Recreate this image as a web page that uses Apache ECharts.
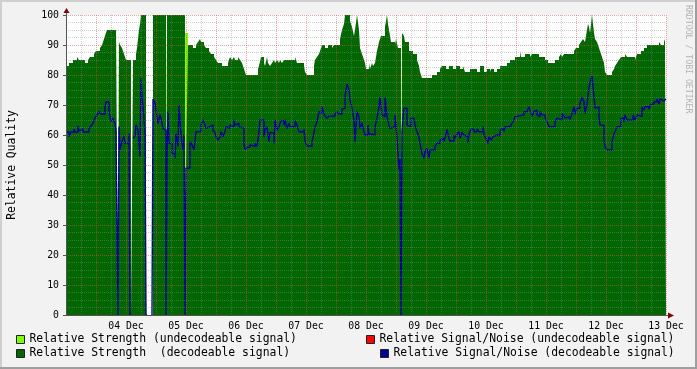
<!DOCTYPE html>
<html>
<head>
<meta charset="utf-8">
<script src="https://cdn.jsdelivr.net/npm/echarts@6/dist/echarts.min.js"></script>
<style>
html,body{margin:0;padding:0;background:#F2F2F2;}
#c{width:697px;height:369px;}
</style>
</head>
<body>
<div id="c"></div>
<script>
// x values are 24-minute slots counted from 03 Dec 00:00 (60 slots = 1 day)
const SLOT_MINUTES = 24;
const SLOTS_PER_DAY = 60;
const X_MAX = 600;
const dayLabels = ['04 Dec','05 Dec','06 Dec','07 Dec','08 Dec','09 Dec','10 Dec','11 Dec','12 Dec','13 Dec'];

const nameStrUndec = 'Relative Strength (undecodeable signal)';
const nameSnrUndec = 'Relative Signal/Noise (undecodeable signal)';
const nameStrDec = 'Relative Strength  (decodeable signal)';
const nameSnrDec = 'Relative Signal/Noise (decodeable signal)';

// Relative Strength (decodeable) – [slot, value], value holds until next slot
const strengthDecodeable = [[0,83],[3,84],[7,85],[11,86],[13,85],[19,84],[22,85],[24,86],[28,87],[30,88],[34,89],[36,90],[38,92],[39,93],[41,95],[50,96],[52,0],[53,91],[54,90],[56,89],[58,87],[60,85],[65,0],[67,85],[70,87],[71,89],[72,92],[73,95],[74,97],[75,100],[80,0],[87,100],[100,0],[101,100],[119,0],[120,49],[122,90],[127,89],[130,90],[132,91],[134,92],[135,91],[138,90],[140,89],[143,88],[145,87],[148,86],[150,85],[152,84],[156,83],[162,84],[164,86],[166,85],[168,86],[169,85],[172,86],[174,85],[176,84],[178,82],[180,80],[192,82],[193,83],[195,86],[198,84],[199,83],[201,86],[202,84],[204,83],[206,84],[208,85],[209,84],[211,85],[213,84],[214,85],[216,84],[218,85],[229,86],[231,84],[238,83],[239,81],[241,80],[248,83],[249,85],[251,86],[253,87],[254,88],[256,90],[259,89],[262,90],[266,89],[268,90],[274,92],[276,95],[278,97],[279,100],[284,98],[286,96],[288,93],[289,95],[291,100],[293,95],[294,89],[296,87],[297,86],[299,84],[300,82],[303,84],[304,82],[306,84],[307,83],[309,84],[311,88],[313,91],[315,93],[319,96],[320,98],[321,100],[322,97],[324,93],[325,91],[329,90],[330,92],[332,89],[335,0],[336,94],[338,93],[339,91],[343,88],[347,87],[351,85],[353,83],[354,81],[356,79],[366,80],[371,81],[374,82],[376,83],[380,82],[383,83],[387,82],[390,83],[394,82],[397,83],[399,81],[404,82],[411,81],[414,83],[418,81],[421,82],[424,81],[425,82],[428,81],[431,82],[434,83],[441,84],[444,85],[449,86],[454,88],[455,86],[459,87],[464,86],[466,87],[473,86],[479,85],[482,84],[489,85],[493,86],[495,87],[496,86],[498,87],[508,88],[510,89],[513,90],[515,91],[517,92],[519,91],[521,95],[522,97],[523,96],[524,94],[526,100],[528,94],[529,92],[531,91],[533,89],[534,88],[536,86],[538,84],[539,81],[541,80],[546,81],[548,82],[549,83],[551,84],[553,85],[555,86],[559,87],[561,86],[569,85],[571,87],[575,88],[578,89],[581,90],[593,91],[595,90],[598,91],[599,92],[600,92]];

// Relative Strength (undecodeable)
const strengthUndecodeable = [[0,0],[52,100],[53,0],[100,100],[101,0],[119,94],[122,0],[333,92],[334,0],[335,100],[336,0],[600,0]];

// Relative Signal/Noise (undecodeable) – no samples in this period
const snrUndecodeable = [];

// Relative Signal/Noise (decodeable); '-' = no data
const snrDecodeable = [[0,61],[3,59.4],[5,61],[8,62],[9,61],[12,63],[13,61.4],[15,62],[17,61],[23,62],[25,63],[27,64],[29,65.6],[31,66.7],[33,67.8],[35,67],[39,69.4],[40,71],[43,68.3],[44,66],[45,64.4],[47,65.6],[49,64],[50,61],[52,0],[53,62.8],[54,55],[56,57.8],[58,59.7],[59,57.2],[63,60.4],[64,0],[65,'-'],[67,58.9],[69,59.7],[70,63.3],[72,61.6],[74,52.8],[75,79],[76,72.8],[78,65.6],[79,61],[80,0],[81,'-'],[86,0],[87,72],[89,70.6],[90,68.3],[92,63.9],[94,66.7],[95,65.6],[97,62.2],[99,61.6],[100,0],[101,53.8],[102,67.8],[103,57.2],[106,53.8],[109,52.2],[110,60.4],[112,56.2],[113,70],[115,60],[117,55],[118,60],[119,0],[120,49],[124,57.8],[126,56.7],[128,55],[130,61.1],[135,63.3],[137,65],[139,63.3],[140,62.2],[142,62.8],[144,62.2],[145,63.3],[147,61.6],[149,60.8],[150,59.4],[152,58.3],[154,59.4],[155,61.1],[157,59.4],[159,61.1],[160,62.8],[162,62.2],[164,63.3],[166,62.8],[168,65],[169,63.3],[171,63.9],[173,62.8],[174,62.2],[178,56.7],[179,55.2],[181,55.9],[184,56.7],[186,56.2],[189,57.2],[191,56.2],[193,61.1],[194,65],[198,59.4],[199,61.6],[201,62.8],[203,57.8],[204,60.8],[208,57.2],[209,65],[211,61.6],[213,62.8],[215,64.8],[218,63.3],[219,65],[221,62.2],[223,63.9],[224,62.8],[229,64.8],[231,63.3],[233,61.1],[238,61.9],[239,57.8],[241,56.4],[243,56.2],[246,57.8],[248,60.8],[249,62.8],[251,64.4],[253,67.8],[254,67.2],[256,69.4],[258,67],[259,66.3],[261,65.6],[263,66.3],[269,67],[271,67.8],[273,67],[276,68.6],[278,68.9],[279,73],[281,77],[283,75],[284,71.9],[286,68.9],[288,65],[289,57.8],[291,67.8],[293,66.1],[294,62.2],[296,64],[298,61.1],[299,60],[302,63.3],[303,60.4],[305,60],[309,62.8],[311,65.6],[313,69.4],[314,72.6],[316,66.7],[318,66.1],[319,72.6],[321,66.1],[323,63.3],[324,62.2],[326,62.8],[329,66.7],[330,63.3],[332,53.8],[333,48.5],[334,52],[335,0],[336,61],[337,65.6],[338,68.9],[341,63.3],[343,62.8],[345,65.6],[348,65],[349,63.3],[351,61.1],[353,59.4],[354,57.2],[356,53.8],[358,52.2],[359,54.4],[361,55.6],[363,52.2],[364,55],[369,56.2],[371,57.2],[374,58.3],[376,58.9],[378,57.8],[379,58.9],[381,61.9],[383,58.9],[384,58],[388,60],[389,58.9],[391,60.4],[393,61.1],[394,58.9],[396,60.8],[398,60],[400,59.4],[402,57.4],[403,60.4],[405,61.9],[408,61.1],[411,61.9],[413,61.1],[417,62.8],[418,60],[420,58.9],[422,57.2],[423,59.4],[425,58.3],[427,59.4],[428,60],[431,59.7],[434,61.1],[435,61.9],[438,61.1],[439,62.8],[444,63.3],[446,63.9],[448,65],[449,66.1],[451,66.7],[458,67.8],[461,68.3],[463,69.4],[464,68.3],[466,66.3],[468,67.8],[469,68.3],[471,66.7],[473,66.1],[474,67.8],[476,66.7],[479,65.9],[481,64.4],[483,62.8],[489,64.4],[491,65.6],[493,65],[496,67.2],[498,66.3],[499,65.6],[501,66.1],[503,66.7],[504,65.2],[506,67.2],[508,69.4],[509,67],[511,68.9],[514,70.6],[516,72.6],[518,71.1],[519,67.2],[521,70.3],[523,75.9],[524,77.4],[526,79.7],[528,72.8],[529,68.9],[531,69.4],[533,66.1],[534,63.3],[538,58.3],[539,56.2],[541,55],[546,57.8],[548,60.4],[549,61.1],[551,62.8],[555,65.6],[558,64.4],[559,66.7],[561,65],[567,66.7],[569,65],[571,66.7],[573,66.1],[576,69.4],[578,68.3],[579,69.4],[583,68.6],[585,70.3],[588,71.1],[591,72],[593,70.3],[594,72],[596,71.4],[598,72],[600,71.4]];

const MONO = 'DejaVu Sans Mono';
const C_LIGHT = '#7fff00', C_DARK = '#006600', C_RED = '#ff0000', C_BLUE = '#000099';
const GRID_MINOR = 'rgba(143,143,143,0.42)';
const GRID_MAJOR = 'rgba(222,79,79,0.5)';

const chart = echarts.init(document.getElementById('c'), null, {renderer:'canvas'});

const legendCommon = {
  orient:'horizontal', padding:0, itemWidth:8, itemHeight:8, icon:'rect', selectedMode:false,
  itemStyle:{borderColor:'#212121', borderWidth:1},
  textStyle:{fontFamily:MONO, fontSize:11.4, color:'#000'}
};

const option = {
  animation:false,
  backgroundColor:'#F2F2F2',
  grid:{left:66, right:31, top:15, bottom:54, show:true, backgroundColor:'#ffffff', borderWidth:0,
        containLabel:false, outerBoundsMode:'none'},
  legend:[
    Object.assign({data:[nameStrUndec], left:16, top:334}, legendCommon),
    Object.assign({data:[nameSnrUndec], left:366, top:334}, legendCommon),
    Object.assign({data:[nameStrDec], left:16, top:348}, legendCommon),
    Object.assign({data:[nameSnrDec], left:380, top:348}, legendCommon)
  ],
  xAxis:{
    type:'value', min:0, max:X_MAX, interval:SLOTS_PER_DAY/2, z:10,
    axisLine:{show:true, lineStyle:{color:'#545454', width:1}},
    axisTick:{show:false},
    axisLabel:{
      fontFamily:MONO, fontSize:9.8, color:'#000', margin:6,
      showMinLabel:false, showMaxLabel:true,
      formatter:function(v){
        if (v > 0 && v % SLOTS_PER_DAY === 0) return dayLabels[v / SLOTS_PER_DAY - 1];
        return '';
      }
    },
    splitLine:{show:true, lineStyle:{color:GRID_MAJOR, width:1, type:[1,1]}},
    minorTick:{show:false, splitNumber:2},
    minorSplitLine:{show:true, lineStyle:{color:GRID_MINOR, width:1, type:[1,1]}}
  },
  yAxis:{
    type:'value', min:0, max:100, interval:10, z:10,
    name:'Relative Quality', nameLocation:'middle', nameRotate:90, nameGap:48,
    nameTextStyle:{fontFamily:MONO, fontSize:11.4, color:'#000'},
    axisLine:{show:true, lineStyle:{color:'#545454', width:1}},
    axisTick:{show:true, length:3, lineStyle:{color:'#545454'}},
    axisLabel:{fontFamily:MONO, fontSize:9.8, color:'#000', margin:7},
    splitLine:{show:true, lineStyle:{color:GRID_MAJOR, width:1, type:[1,1]}},
    minorTick:{show:false, splitNumber:4},
    minorSplitLine:{show:true, lineStyle:{color:GRID_MINOR, width:1, type:[1,1]}}
  },
  series:[
    {name:nameStrUndec, type:'line', step:'end', data:strengthUndecodeable, symbol:'none', z:1,
     itemStyle:{color:C_LIGHT}, lineStyle:{width:0, color:C_LIGHT}, areaStyle:{color:C_LIGHT, opacity:1}},
    {name:nameStrDec, type:'line', step:'end', data:strengthDecodeable, symbol:'none', z:2,
     itemStyle:{color:C_DARK}, lineStyle:{width:0, color:C_DARK}, areaStyle:{color:C_DARK, opacity:1}},
    {name:nameSnrUndec, type:'line', step:'end', data:snrUndecodeable, symbol:'none', z:3,
     itemStyle:{color:C_RED}, lineStyle:{width:1, color:C_RED}},
    {name:nameSnrDec, type:'line', step:'end', data:snrDecodeable, symbol:'none', z:4, connectNulls:false,
     itemStyle:{color:C_BLUE}, lineStyle:{width:1.4, color:C_BLUE}}
  ]
};
chart.setOption(option);

// Decorations: frame shading, axis arrows, watermark
const p0 = chart.convertToPixel({gridIndex:0}, [0, 0]);
const p1 = chart.convertToPixel({gridIndex:0}, [X_MAX, 100]);
const W = 697, H = 369;
chart.setOption({
  graphic:[
    {type:'rect', shape:{x:0, y:0, width:W, height:2}, style:{fill:'#CFCFCF'}, silent:true},
    {type:'rect', shape:{x:0, y:0, width:2, height:H}, style:{fill:'#CFCFCF'}, silent:true},
    {type:'rect', shape:{x:0, y:H-2, width:W, height:2}, style:{fill:'#9E9E9E'}, silent:true},
    {type:'rect', shape:{x:W-2, y:0, width:2, height:H}, style:{fill:'#9E9E9E'}, silent:true},
    {type:'line', shape:{x1:p0[0]+0.5, y1:p0[1], x2:p0[0]+0.5, y2:p1[1]-6}, style:{stroke:'#545454', lineWidth:1}, silent:true, z:20},
    {type:'line', shape:{x1:p0[0], y1:p0[1]+0.5, x2:p1[0]+4, y2:p0[1]+0.5}, style:{stroke:'#545454', lineWidth:1}, silent:true, z:20},
    {type:'polygon', shape:{points:[[p0[0]-2.5, p1[1]-2],[p0[0]+3.5, p1[1]-2],[p0[0]+0.5, p1[1]-7]]}, style:{fill:'#800000'}, silent:true, z:21},
    {type:'polygon', shape:{points:[[p1[0]+2, p0[1]-2.5],[p1[0]+2, p0[1]+3.5],[p1[0]+8, p0[1]+0.5]]}, style:{fill:'#800000'}, silent:true, z:21},
    {type:'text', x:W-9, y:5, rotation:-Math.PI/2,
     style:{text:'RRDTOOL / TOBI OETIKER', fontFamily:MONO, fontSize:8.2, fill:'#b4b4b4', align:'left', verticalAlign:'middle'}, silent:true}
  ]
});
</script>
</body>
</html>
